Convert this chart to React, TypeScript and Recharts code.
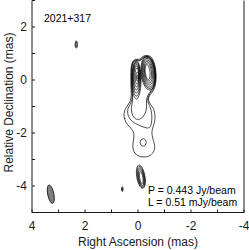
import React from 'react';
import { ComposedChart, Line, Scatter, XAxis, YAxis, ReferenceDot, Curve } from 'recharts';

// Tick positions (mas)
const RA_TICKS = [-4, -3, -2, -1, 0, 1, 2, 3, 4];
const DEC_TICKS = [-5, -4, -3, -2, -1, 0, 1, 2, 3];

// Texts
const SOURCE_NAME = '2021+317';
const PEAK_LABEL = 'P = 0.443 Jy/beam';
const LOWEST_LABEL = 'L = 0.51 mJy/beam';
const X_TITLE = 'Right Ascension (mas)';
const Y_TITLE = 'Relative Declination (mas)';

// Contours: [RA (mas), Dec (mas)] control points
const JET_OUTER = [
  [0.257, 0.528], [0.208, 0.717], [0.094, 0.792], [-0.019, 0.774], [-0.094, 0.792], [-0.189, 0.906],
  [-0.34, 0.943], [-0.491, 0.887], [-0.604, 0.717], [-0.679, 0.377], [-0.691, 0], [-0.642, -0.302],
  [-0.528, -0.472], [-0.415, -0.604], [-0.377, -0.755], [-0.453, -0.906], [-0.585, -1.057],
  [-0.649, -1.283], [-0.642, -1.547], [-0.566, -1.774], [-0.509, -1.962], [-0.547, -2.189],
  [-0.642, -2.453], [-0.623, -2.679], [-0.472, -2.868], [-0.226, -2.925], [0.019, -2.868],
  [0.17, -2.717], [0.208, -2.491], [0.17, -2.264], [0.132, -2.038], [0.226, -1.849], [0.396, -1.698],
  [0.509, -1.509], [0.547, -1.283], [0.472, -1.057], [0.321, -0.868], [0.245, -0.679], [0.264, -0.377],
  [0.272, 0], [0.272, 0.302],
];
const JET_MID = [
  [0.242, 0.528], [0.189, 0.698], [0.094, 0.762], [-0.019, 0.743], [-0.106, 0.762], [-0.196, 0.875],
  [-0.34, 0.913], [-0.479, 0.86], [-0.581, 0.698], [-0.653, 0.377], [-0.664, 0], [-0.615, -0.283],
  [-0.509, -0.445], [-0.396, -0.577], [-0.351, -0.755], [-0.408, -0.925], [-0.491, -1.094],
  [-0.528, -1.321], [-0.521, -1.585], [-0.472, -1.792], [-0.34, -1.83], [-0.113, -1.736],
  [0.113, -1.642], [0.264, -1.528], [0.377, -1.358], [0.404, -1.17], [0.351, -1.0], [0.245, -0.83],
  [0.215, -0.642], [0.238, -0.377], [0.245, 0], [0.249, 0.302],
];
const JET_INNER = [
  [0.226, 0.528], [0.174, 0.679], [0.094, 0.74], [-0.019, 0.717], [-0.113, 0.736], [-0.204, 0.849],
  [-0.34, 0.887], [-0.468, 0.838], [-0.566, 0.679], [-0.63, 0.377], [-0.642, 0], [-0.592, -0.264],
  [-0.491, -0.415], [-0.37, -0.558], [-0.309, -0.755], [-0.332, -0.981], [-0.302, -1.208],
  [-0.189, -1.415], [-0.019, -1.509], [0.151, -1.453], [0.245, -1.245], [0.257, -1.019],
  [0.208, -0.83], [0.196, -0.642], [0.219, -0.377], [0.226, 0], [0.23, 0.302],
];
const CORE_A = [[0.06, 0.796], [-0.076, 0.559], [-0.133, 0], [-0.076, -0.559], [0.06, -0.796], [0.196, -0.559], [0.253, 0], [0.196, 0.559]];
const CORE_B = [[0.06, 0.751], [-0.061, 0.539], [-0.112, 0.038], [-0.061, -0.463], [0.06, -0.675], [0.181, -0.463], [0.232, 0.038], [0.181, 0.539]];
const CORE_C = [[0.06, 0.703], [-0.046, 0.516], [-0.091, 0.075], [-0.046, -0.366], [0.06, -0.553], [0.166, -0.366], [0.211, 0.075], [0.166, 0.516]];
const CORE_D = [[0.06, 0.638], [-0.031, 0.479], [-0.07, 0.104], [-0.031, -0.271], [0.06, -0.43], [0.151, -0.271], [0.19, 0.104], [0.151, 0.479]];
const CORE_E = [[0.057, 0.572], [-0.016, 0.441], [-0.047, 0.132], [-0.016, -0.177], [0.057, -0.308], [0.13, -0.177], [0.161, 0.132], [0.13, 0.441]];
const CORE_F = [[0.042, 0.486], [-0.014, 0.387], [-0.038, 0.151], [-0.014, -0.085], [0.042, -0.184], [0.098, -0.085], [0.122, 0.151], [0.098, 0.387]];
const CORE_G = [[0.028, 0.321], [-0.009, 0.265], [-0.024, 0.132], [-0.009, -0.001], [0.028, -0.057], [0.065, -0.001], [0.08, 0.132], [0.065, 0.265]];
const CORE_H = [[0.019, 0.196], [-0.001, 0.172], [-0.01, 0.113], [-0.001, 0.054], [0.019, 0.03], [0.039, 0.054], [0.048, 0.113], [0.039, 0.172]];
const KNOT_A = [[-0.324, 0.957], [-0.557, 0.748], [-0.691, 0.255], [-0.645, -0.238], [-0.45, -0.447], [-0.217, -0.238], [-0.083, 0.255], [-0.129, 0.748]];
const KNOT_B = [[-0.333, 0.913], [-0.546, 0.72], [-0.67, 0.264], [-0.628, -0.192], [-0.449, -0.385], [-0.236, -0.192], [-0.112, 0.264], [-0.154, 0.72]];
const KNOT_C = [[-0.335, 0.871], [-0.527, 0.694], [-0.64, 0.274], [-0.603, -0.146], [-0.443, -0.323], [-0.251, -0.146], [-0.138, 0.274], [-0.175, 0.694]];
const KNOT_D = [[-0.34, 0.807], [-0.508, 0.651], [-0.607, 0.283], [-0.574, -0.085], [-0.434, -0.241], [-0.266, -0.085], [-0.167, 0.283], [-0.2, 0.651]];
const KNOT_E = [[-0.342, 0.743], [-0.482, 0.609], [-0.565, 0.292], [-0.54, -0.025], [-0.424, -0.159], [-0.284, -0.025], [-0.201, 0.292], [-0.226, 0.609]];
const KNOT_F = [[-0.343, 0.679], [-0.456, 0.567], [-0.524, 0.302], [-0.504, 0.037], [-0.411, -0.075], [-0.298, 0.037], [-0.23, 0.302], [-0.25, 0.567]];
const KNOT_G = [[-0.334, 0.616], [-0.413, 0.523], [-0.463, 0.302], [-0.453, 0.081], [-0.39, -0.012], [-0.311, 0.081], [-0.261, 0.302], [-0.271, 0.523]];
const LOBE_HOLE = [[-0.196, -2.203], [-0.284, -2.249], [-0.321, -2.358], [-0.284, -2.467], [-0.196, -2.513], [-0.108, -2.467], [-0.071, -2.358], [-0.108, -2.249]];
const COMP_A = [[-0.035, -3.159], [-0.179, -3.304], [-0.282, -3.647], [-0.281, -3.99], [-0.181, -4.135], [-0.037, -3.99], [0.066, -3.647], [0.065, -3.304]];
const COMP_B = [[-0.046, -3.216], [-0.171, -3.348], [-0.263, -3.66], [-0.265, -3.972], [-0.18, -4.104], [-0.055, -3.972], [0.037, -3.66], [0.039, -3.348]];
const COMP_C = [[-0.058, -3.276], [-0.163, -3.393], [-0.242, -3.67], [-0.247, -3.947], [-0.176, -4.064], [-0.071, -3.947], [0.008, -3.67], [0.013, -3.393]];
const COMP_D = [[-0.07, -3.347], [-0.155, -3.446], [-0.22, -3.68], [-0.225, -3.914], [-0.17, -4.013], [-0.085, -3.914], [-0.02, -3.68], [-0.015, -3.446]];
const COMP_E = [[-0.085, -3.435], [-0.144, -3.511], [-0.192, -3.69], [-0.198, -3.869], [-0.161, -3.945], [-0.102, -3.869], [-0.054, -3.69], [-0.048, -3.511]];
const SPOT_F1 = [[0.592, -4.02], [0.569, -4.05], [0.559, -4.12], [0.569, -4.19], [0.592, -4.22], [0.615, -4.19], [0.625, -4.12], [0.615, -4.05]];
const SPOT_F2 = [[0.592, -4.06], [0.58, -4.08], [0.575, -4.12], [0.58, -4.16], [0.592, -4.18], [0.604, -4.16], [0.609, -4.12], [0.604, -4.08]];
const SPOT_G1 = [[2.33, 1.495], [2.295, 1.449], [2.28, 1.34], [2.295, 1.231], [2.33, 1.185], [2.365, 1.231], [2.38, 1.34], [2.365, 1.449]];
const SPOT_G2 = [[2.33, 1.44], [2.31, 1.41], [2.302, 1.34], [2.31, 1.27], [2.33, 1.24], [2.35, 1.27], [2.358, 1.34], [2.35, 1.41]];
const SPOT_H = [[0.49, -1.43], [0.478, -1.45], [0.49, -1.47], [0.502, -1.45]];
const BEAM = [[3.36, -3.926], [3.246, -4.04], [3.159, -4.309], [3.15, -4.578], [3.222, -4.692], [3.336, -4.578], [3.423, -4.309], [3.432, -4.04]];

const CONTOURS = [
  JET_OUTER, JET_MID, JET_INNER,
  CORE_A, CORE_B, CORE_C, CORE_D, CORE_E, CORE_F, CORE_G, CORE_H,
  KNOT_A, KNOT_B, KNOT_C, KNOT_D, KNOT_E, KNOT_F, KNOT_G,
  LOBE_HOLE, COMP_A, COMP_B, COMP_C, COMP_D, COMP_E,
  SPOT_F1, SPOT_F2, SPOT_G1, SPOT_G2, SPOT_H,
];

const toXY = (pts: number[][]) => pts.map(([x, y]) => ({ x, y }));
const evenOnly = (v: number) => (v % 2 === 0 ? String(v) : '');

const FONT = '"Liberation Sans", Arial, sans-serif';
const INK = '#1a1a1a';

const YTitle = (props: any) => {
  const vb = props && props.viewBox ? props.viewBox : { x: 0, y: 0.5, width: 32, height: 212 };
  const cx = vb.x + 12.5;
  const cy = vb.y + vb.height / 2 - 4;
  return (
    <text x={cx} y={cy} transform={`rotate(-90, ${cx}, ${cy})`} textAnchor="middle" fill={INK} fontSize={12} fontFamily={FONT}>
      {Y_TITLE}
    </text>
  );
};

export default function App() {
  return (
    <div style={{ position: 'absolute', left: 0, top: 0, fontFamily: FONT }}>
      <ComposedChart width={249} height={250} margin={{ top: 0.5, right: 0, bottom: 0, left: 0 }}>
        <XAxis
          xAxisId={0}
          type="number"
          dataKey="x"
          domain={[-4, 4]}
          reversed
          allowDataOverflow
          ticks={RA_TICKS}
          interval={0}
          tickFormatter={evenOnly}
          tickSize={-3}
          tickMargin={12}
          height={37.5}
          stroke={INK}
          tick={{ fill: INK, fontSize: 12, fontFamily: FONT }}
          label={{ value: X_TITLE, position: 'insideBottom', offset: 4.5, fill: INK, fontSize: 12, fontFamily: FONT }}
        />
        <XAxis
          xAxisId="top"
          orientation="top"
          type="number"
          domain={[-4, 4]}
          reversed
          allowDataOverflow
          ticks={RA_TICKS}
          interval={0}
          tick={false}
          tickSize={-3}
          height={0}
          stroke={INK}
        />
        <YAxis
          yAxisId={0}
          type="number"
          dataKey="y"
          domain={[-5, 3]}
          allowDataOverflow
          ticks={DEC_TICKS}
          interval={0}
          tickFormatter={evenOnly}
          tickSize={-3}
          tickMargin={8}
          width={32}
          stroke={INK}
          tick={{ fill: INK, fontSize: 12, fontFamily: FONT }}
          label={{ value: Y_TITLE, position: 'insideLeft', content: YTitle }}
        />
        <YAxis
          yAxisId="right"
          orientation="right"
          type="number"
          domain={[-5, 3]}
          allowDataOverflow
          ticks={DEC_TICKS}
          interval={0}
          tick={false}
          tickSize={-3}
          width={5}
          stroke={INK}
        />
        {CONTOURS.map((c, i) => (
          <Line
            key={i}
            data={toXY(c)}
            dataKey="y"
            type="basisClosed"
            stroke="#000"
            strokeWidth={0.7}
            dot={false}
            activeDot={false}
            legendType="none"
            isAnimationActive={false}
          />
        ))}
        <Scatter
          data={toXY(BEAM)}
          dataKey="y"
          isAnimationActive={false}
          shape={() => <g />}
          line={(p: any) => <Curve {...p} type="basisClosed" fill="#7f7f7f" stroke="#000" strokeWidth={0.8} />}
        />
        <ReferenceDot x={3.547} y={2.328} r={0} fill="none" stroke="none"
          label={{ value: SOURCE_NAME, position: 'right', offset: 0, fill: '#000', fontSize: 10.5, fontFamily: FONT }} />
        <ReferenceDot x={-0.377} y={-4.17} r={0} fill="none" stroke="none"
          label={{ value: PEAK_LABEL, position: 'right', offset: 0, fill: '#000', fontSize: 10.5, fontFamily: FONT }} />
        <ReferenceDot x={-0.377} y={-4.604} r={0} fill="none" stroke="none"
          label={{ value: LOWEST_LABEL, position: 'right', offset: 0, fill: '#000', fontSize: 10.5, fontFamily: FONT }} />
      </ComposedChart>
    </div>
  );
}
